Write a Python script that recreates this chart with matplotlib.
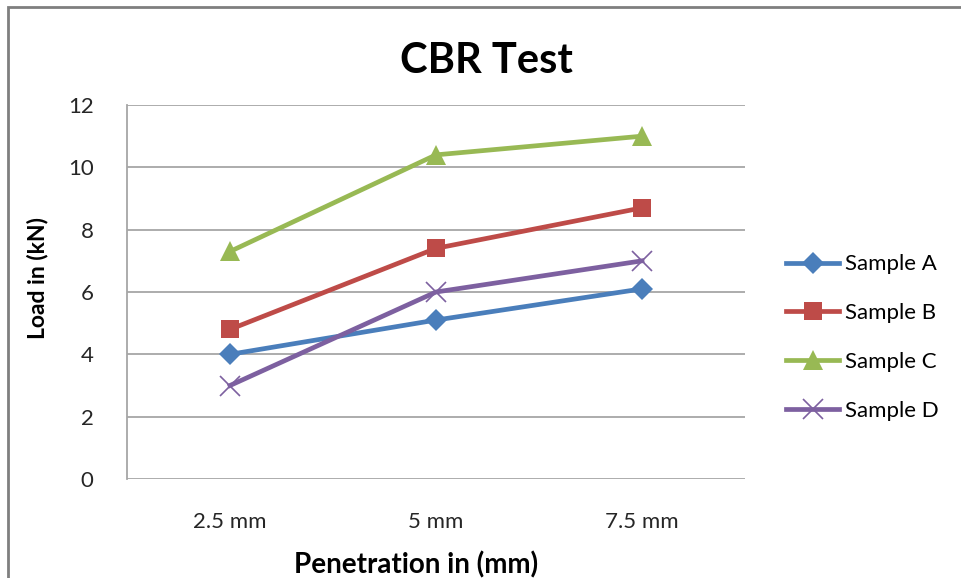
import numpy as np
import matplotlib
matplotlib.use("Agg")
import matplotlib.pyplot as plt
from matplotlib.patches import Rectangle

plt.rcParams['font.family'] = ['Lato', 'DejaVu Sans']

# Datos
categorias = ["2.5 mm", "5 mm", "7.5 mm"]
sample_a = [4.0, 5.1, 6.1]
sample_b = [4.8, 7.4, 8.7]
sample_c = [7.3, 10.4, 11.0]
sample_d = [3.0, 6.0, 7.0]
nombres = ["Sample A", "Sample B", "Sample C", "Sample D"]
series = [sample_a, sample_b, sample_c, sample_d]

colores = ["#4a7ebb", "#be4b48", "#98b954", "#7d60a0"]
marcadores = ["D", "s", "^", "x"]
tam = [11, 13, 14, 14]

fig = plt.figure(figsize=(9.61, 5.78), dpi=100)
ax = fig.add_axes([127/961, 1-479/578, (745-127)/961, (479-105)/578])

x = np.arange(len(categorias))
for s, nom, c, m, ms in zip(series, nombres, colores, marcadores, tam):
    ax.plot(x, s, color=c, lw=3.4, marker=m, markersize=ms,
            markeredgewidth=1.2 if m == "x" else 0, label=nom, zorder=3)

ax.set_xlim(-0.5, 2.5)
ax.set_ylim(0, 12)
ax.set_yticks(np.arange(0, 13, 2))
ax.set_xticks(x)
ax.set_xticklabels(categorias)
ax.tick_params(axis='both', length=0, labelsize=16, colors='#262626')
ax.tick_params(axis='y', pad=24)
ax.tick_params(axis='x', pad=24)
ax.grid(axis='y', color='#a6a6a6', lw=1.3)
ax.set_axisbelow(True)
for lado in ['top', 'right', 'bottom']:
    ax.spines[lado].set_visible(False)
ax.spines['left'].set_color('#a6a6a6')
ax.spines['left'].set_linewidth(1.3)

ax.set_ylabel("Load in (kN)", fontsize=16.5, fontweight='bold')
ax.yaxis.set_label_coords((38 - 127) / 618, (479 - 278) / 374)
ax.set_xlabel("Penetration in (mm)", fontsize=20, fontweight='bold')
ax.xaxis.set_label_coords((416 - 127) / 618, (479 - 565) / 374)
ax.xaxis.label.set_va('center')
ax.yaxis.label.set_va('center')
fig.text(486/961, 1-61/578, "CBR Test", fontsize=30, fontweight='bold',
         ha='center', va='center')

leg = ax.legend(loc='center left', bbox_to_anchor=(1.034, 0.378), frameon=False,
                fontsize=16, handlelength=2.4, labelspacing=1.3, handletextpad=0.25)

# marco del grafico
fig.patches.append(Rectangle((8/961, -0.1), 1.2, 1 - 7/578 + 0.1, transform=fig.transFigure,
                             fill=False, ec='#7f7f7f', lw=2))

fig.savefig("out.png", dpi=100)
